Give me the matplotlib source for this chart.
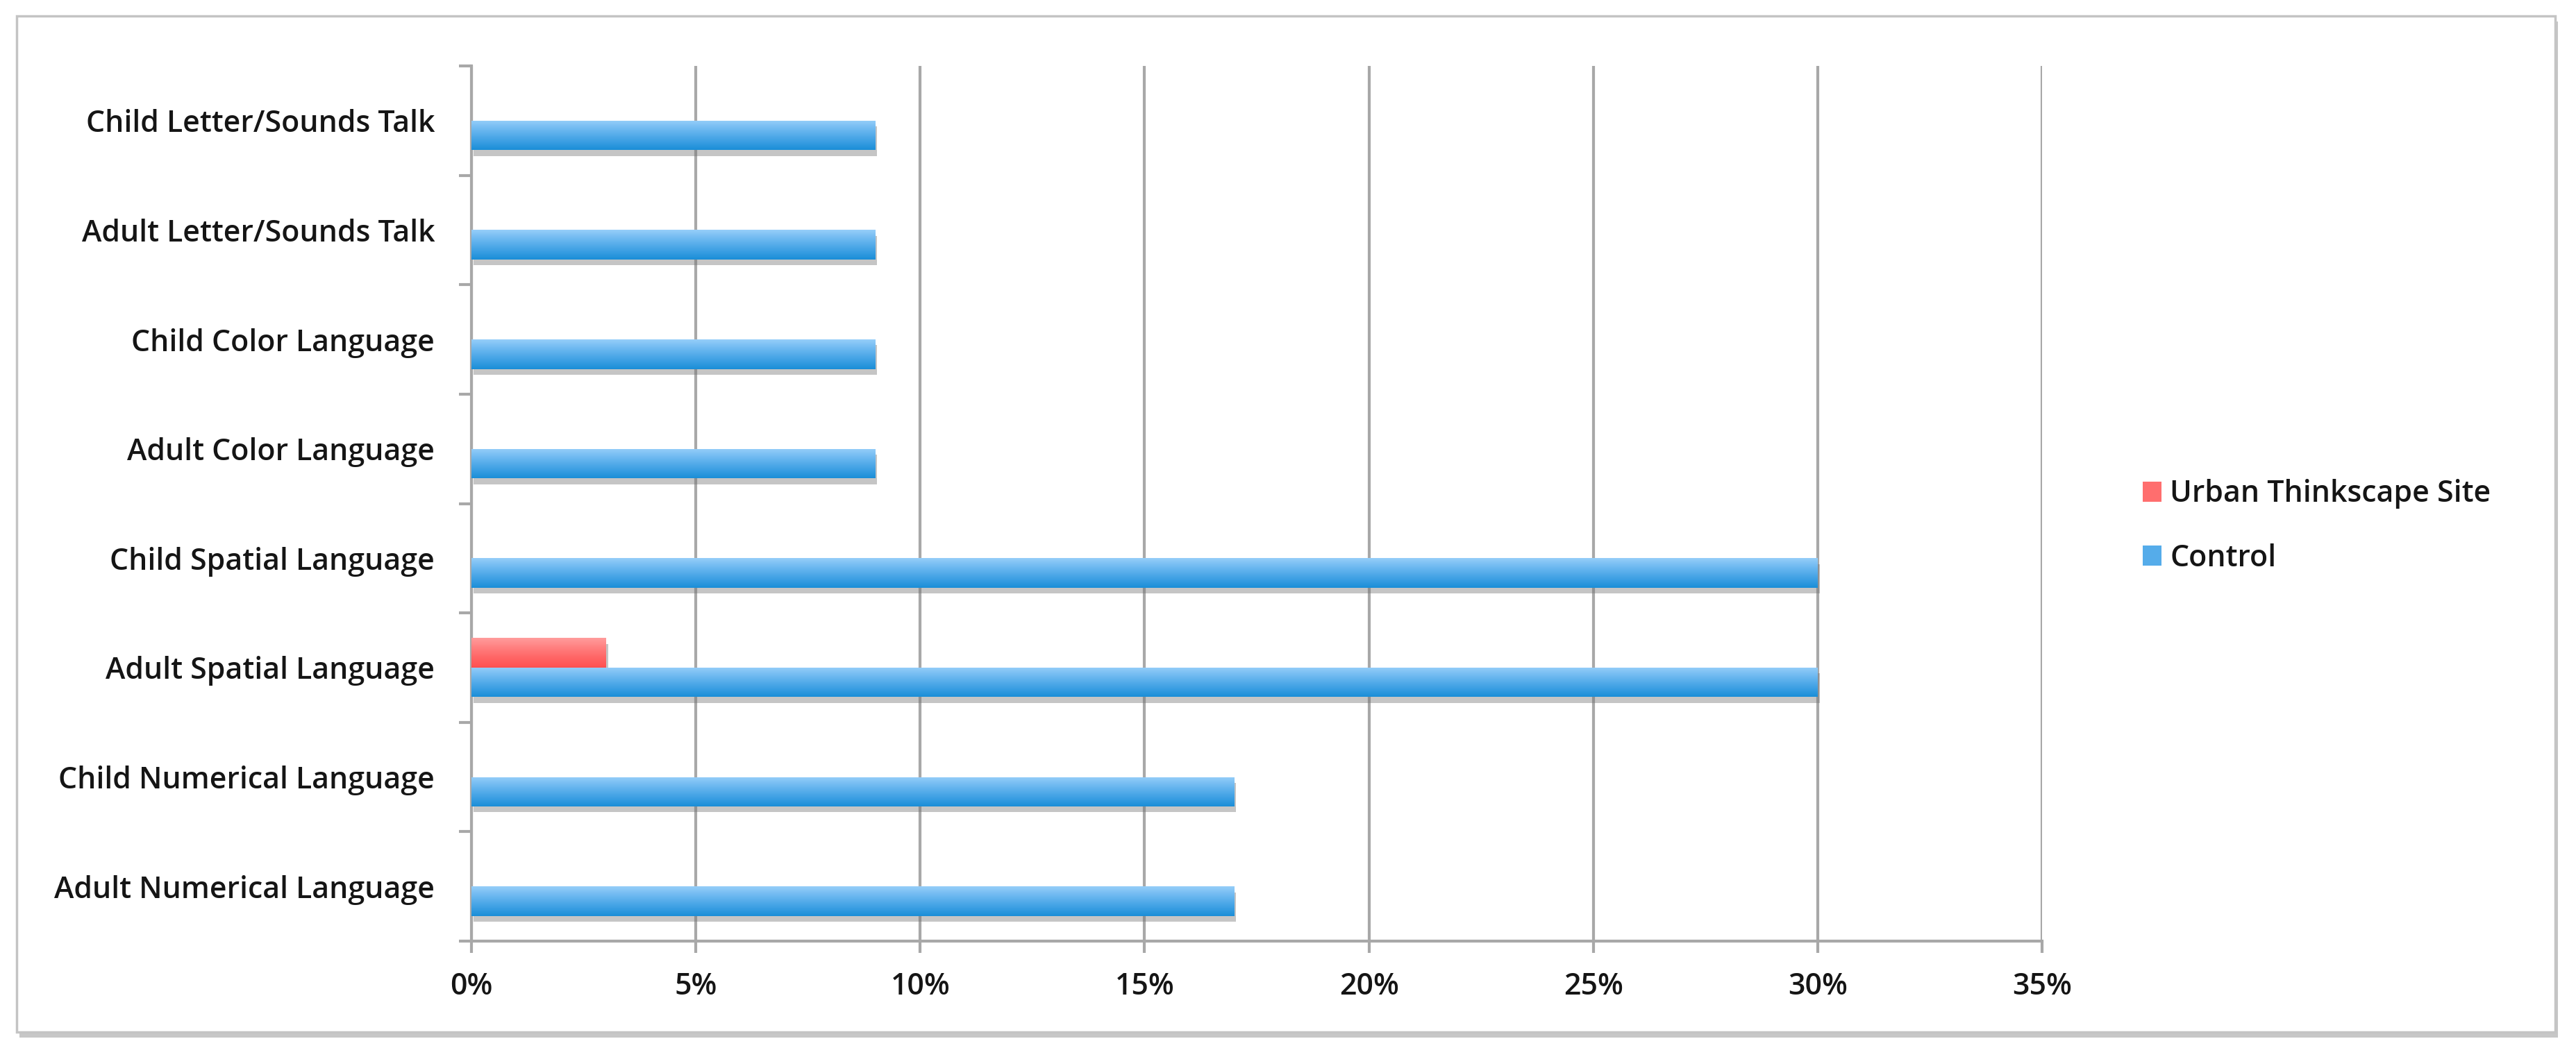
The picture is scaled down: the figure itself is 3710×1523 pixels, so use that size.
import numpy as np
import matplotlib
matplotlib.use("Agg")
import matplotlib.pyplot as plt
from matplotlib.colors import LinearSegmentedColormap
from matplotlib.patches import Rectangle, Patch
from matplotlib.ticker import PercentFormatter
import matplotlib.patheffects as pe

# ---- data (bottom to top) ----
categories = [
    "Adult Numerical Language",
    "Child Numerical Language",
    "Adult Spatial Language",
    "Child Spatial Language",
    "Adult Color Language",
    "Child Color Language",
    "Adult Letter/Sounds Talk",
    "Child Letter/Sounds Talk",
]
urban_site = [0, 0, 3, 0, 0, 0, 0, 0]
control = [17, 17, 30, 30, 9, 9, 9, 9]
series_names = ["Urban Thinkscape Site", "Control"]
x_ticks = [0, 5, 10, 15, 20, 25, 30, 35]

plt.rcParams["font.family"] = ["Open Sans", "DejaVu Sans"]
plt.rcParams["font.weight"] = "semibold"
FS = 30.9
TXT = "#151515"
GRID = "#a8a8a8"

fig = plt.figure(figsize=(37.10, 15.23), dpi=100)
fig.patch.set_facecolor("white")

# outer frame with shadow
frame = Rectangle((24 / 3710, 1 - 1487 / 1523), 3656 / 3710, 1464 / 1523,
                  transform=fig.transFigure, facecolor="white",
                  edgecolor="#c4c4c4", linewidth=2.5, zorder=-5)
frame.set_path_effects([pe.SimplePatchShadow(offset=(3, -6), shadow_rgbFace="#9a9a9a", alpha=0.55),
                        pe.Normal()])
fig.add_artist(frame)

ax = fig.add_axes([679 / 3710, 1 - 1356 / 1523, (2941 - 679) / 3710, (1356 - 95) / 1523])
ax.set_facecolor("none")

y = np.arange(len(categories))
h = 0.27
red_bars = ax.barh(y + h / 2, urban_site, height=h, color="#ff6e6e", zorder=3)
blue_bars = ax.barh(y - h / 2, control, height=h, color="#4aa8ea", zorder=3)

blue_cmap = LinearSegmentedColormap.from_list(
    "b", ["#96cef9", "#74bcf2", "#55acea", "#389de2", "#1a8ed7"])
red_cmap = LinearSegmentedColormap.from_list(
    "r", ["#ff9c9c", "#ff7f7f", "#ff6565", "#ff5050"])
grad = np.linspace(0, 1, 128).reshape(-1, 1)

shadow = [pe.SimplePatchShadow(offset=(2, -6), shadow_rgbFace="#6f6f6f", alpha=0.4), pe.Normal()]
for bars, cmap in ((red_bars, red_cmap), (blue_bars, blue_cmap)):
    for p in bars.patches:
        if p.get_width() <= 0:
            p.set_visible(False)
            continue
        p.set_path_effects(shadow)
        x0, y0, w, hh = p.get_x(), p.get_y(), p.get_width(), p.get_height()
        im = ax.imshow(grad, cmap=cmap, aspect="auto", origin="upper",
                       extent=[x0, x0 + w, y0, y0 + hh], zorder=4, interpolation="bilinear")
        im.set_clip_path(p)

ax.set_xlim(0, 35)
ax.set_ylim(-0.5, len(categories) - 0.5)

ax.xaxis.set_major_locator(plt.FixedLocator(x_ticks))
ax.xaxis.set_major_formatter(PercentFormatter(xmax=100, decimals=0))
ax.grid(axis="x", color=GRID, linewidth=3.0, zorder=0)
ax.set_axisbelow(True)

ax.set_yticks(y)
ax.set_yticklabels(categories)
ax.set_yticks(np.arange(-0.5, len(categories), 1.0), minor=True)

for s in ("top", "right"):
    ax.spines[s].set_visible(False)
for s in ("left", "bottom"):
    ax.spines[s].set_color(GRID)
    ax.spines[s].set_linewidth(3.0)

ax.tick_params(axis="y", which="major", length=0, pad=38, labelsize=FS, labelcolor=TXT)
ax.tick_params(axis="y", which="minor", length=13, width=3.0, color=GRID, direction="out")
ax.tick_params(axis="x", which="major", length=12, width=3.0, color=GRID, pad=20,
               labelsize=FS, labelcolor=TXT)

handles = [Patch(facecolor="#ff6e6e", edgecolor="none"),
           Patch(facecolor="#55acea", edgecolor="none")]
leg = fig.legend(handles, series_names, loc="center left",
                 bbox_to_anchor=(3086 / 3710, 1 - 758 / 1523),
                 frameon=False, fontsize=FS, handlelength=0.62, handleheight=0.68,
                 handletextpad=0.3, labelspacing=1.15, borderpad=0, borderaxespad=0)
for t in leg.get_texts():
    t.set_color(TXT)

fig.savefig("out.png", dpi=100, facecolor="white")
